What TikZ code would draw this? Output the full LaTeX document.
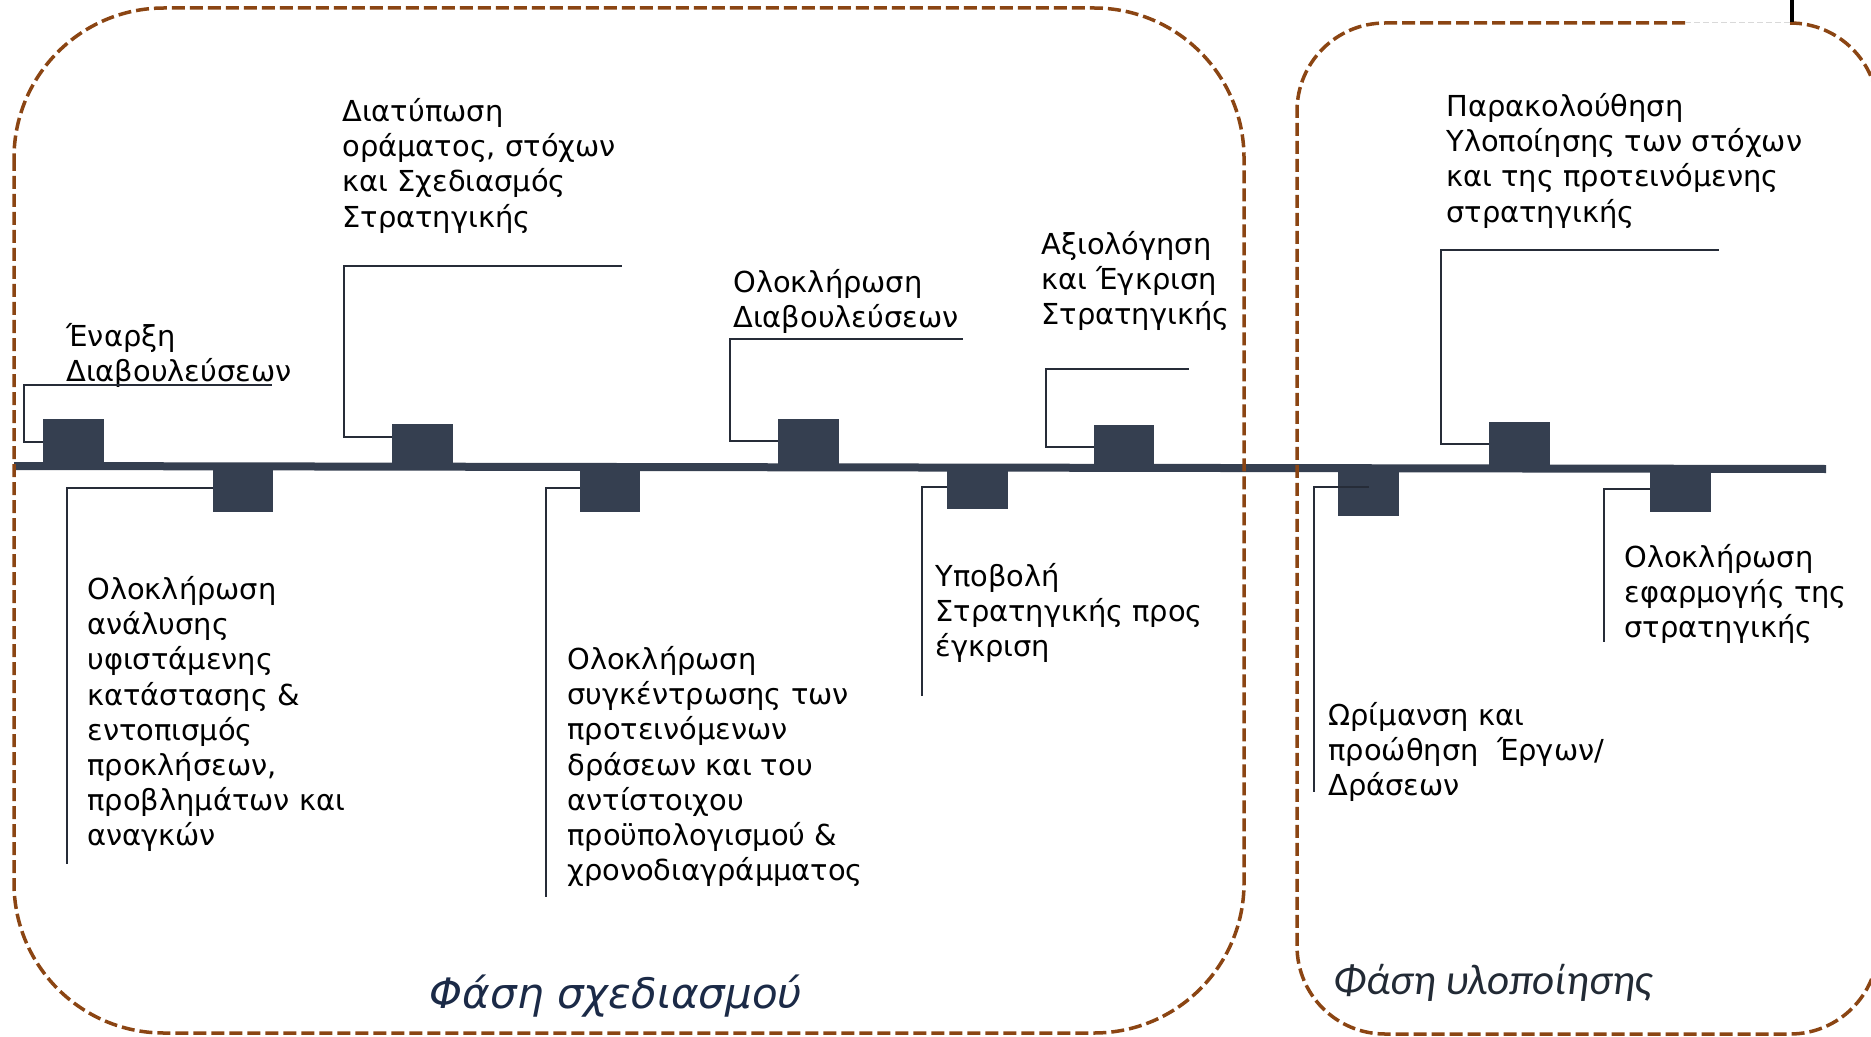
\documentclass[tikz,border=0pt]{standalone}
\usepackage{fontspec}
\setmainfont{DejaVu Sans}
\newfontfamily\calfont{Carlito}
\definecolor{slate}{HTML}{353F50}
\definecolor{callc}{HTML}{262C38}
\definecolor{phasebrown}{HTML}{8B4513}
\definecolor{titlenavy}{HTML}{1B2A47}
\definecolor{titlegrey}{HTML}{222A35}
\begin{document}
\begin{tikzpicture}[x=0.5pt,y=-0.5pt,
  sq/.style={fill=slate,draw=none,inner sep=0pt,minimum width=30.5pt},
  callout/.style={draw=callc,line width=1.3pt},
  lbl/.style={anchor=north west,inner sep=0pt,align=left,text=black,
    font=\fontsize{14.45pt}{17.6pt}\selectfont},
  phase/.style={draw=phasebrown,line width=1.75pt,dash pattern=on 6.5pt off 2.5pt},
  ]
\useasboundingbox (0,0) rectangle (1871,1037);
% timeline
\coordinate (tlA) at (14,466);
\coordinate (tlB) at (1826,469);
\draw[slate,line width=4pt] (tlA) -- (tlB);
% squares above
\node[sq,minimum height=23.5pt] (s1) at (73.5,442.5) {};
\node[sq,minimum height=21pt] (s3) at (422.5,445) {};
\node[sq,minimum height=24pt] (s5) at (808.5,443) {};
\node[sq,minimum height=21pt,minimum width=30pt] (s7) at (1124,446) {};
\node[sq,minimum height=23pt] (s9) at (1519.5,445) {};
% squares below
\node[sq,minimum height=23pt,minimum width=30pt] (s2) at (243,489) {};
\node[sq,minimum height=22.5pt,minimum width=30pt] (s4) at (610,489.5) {};
\node[sq,minimum height=21pt] (s6) at (977.5,488) {};
\node[sq,minimum height=24pt] (s8) at (1368.5,492) {};
\node[sq,minimum height=21.5pt] (s10) at (1680.5,490.5) {};
% labels
\node[lbl] (t1) at (66,321.4) {\strut Έναρξη\\Διαβουλεύσεων};
\node[lbl] (t2) at (87,574.4) {\strut Ολοκλήρωση\\ανάλυσης\\υφιστάμενης\\κατάστασης \&\\εντοπισμός\\προκλήσεων,\\προβλημάτων και\\αναγκών};
\node[lbl] (t3) at (342,96.4) {\strut Διατύπωση\\οράματος, στόχων\\και Σχεδιασμός\\Στρατηγικής};
\node[lbl] (t4) at (567,644.4) {\strut Ολοκλήρωση\\συγκέντρωσης των\\προτεινόμενων\\δράσεων και του\\αντίστοιχου\\προϋπολογισμού \&\\χρονοδιαγράμματος};
\node[lbl] (t5) at (733,267) {\strut Ολοκλήρωση\\Διαβουλεύσεων};
\node[lbl] (t6) at (935,561.4) {\strut Υποβολή\\Στρατηγικής προς\\έγκριση};
\node[lbl] (t7) at (1041,229.4) {\strut Αξιολόγηση\\και Έγκριση\\Στρατηγικής};
\node[lbl] (t8) at (1328,700.4) {\strut Ωρίμανση και\\προώθηση\ \ Έργων/\\Δράσεων};
\node[lbl] (t9) at (1446,91.4) {\strut Παρακολούθηση\\Υλοποίησης των στόχων\\και της προτεινόμενης\\στρατηγικής};
\node[lbl] (t10) at (1624,542.4) {\strut Ολοκλήρωση\\εφαρμογής της\\στρατηγικής};
% callout end coordinates
\coordinate (c1) at (272,385);
\coordinate (c3) at (622,266);
\coordinate (c5) at (963,339);
\coordinate (c7) at (1189,369);
\coordinate (c9) at (1719,250);
\coordinate (c2) at (67,864);
\coordinate (c4) at (546,897);
\coordinate (c6) at (922,696);
\coordinate (c8) at (1314,792);
\coordinate (c10) at (1604,642);
% callouts above
\draw[callout] (s1.west |- 0,442) -- (24,442) -- (24,385) -- (c1);
\draw[callout] (s3.west |- 0,437) -- (344,437) -- (344,266) -- (c3);
\draw[callout] (s5.west |- 0,441) -- (730,441) -- (730,339) -- (c5);
\draw[callout] (s7.west |- 0,447) -- (1046,447) -- (1046,369) -- (c7);
\draw[callout] (s9.west |- 0,444) -- (1441,444) -- (1441,250) -- (c9);
% callouts below
\draw[callout] (s2.west |- 0,488) -- (67,488) -- (c2);
\draw[callout] (s4.west |- 0,488) -- (546,488) -- (c4);
\draw[callout] (s6.west |- 0,487) -- (922,487) -- (c6);
\draw[callout] (s8.center |- 0,487) -- (1314,487) -- (c8);
\draw[callout] (s10.west |- 0,489) -- (1604,489) -- (c10);
% phase boxes
\draw[phase,rounded corners=75pt] (14,8) rectangle (1244,1033);
\draw[phase,rounded corners=44pt] (1685,23) -- (1297,23) -- (1297,1034) -- (1878,1034) -- (1878,23) -- (1790,23);
\draw[draw=black!15,line width=0.5pt,dash pattern=on 3pt off 1.5pt] (1685,23) -- (1790,23);
\draw[black,line width=1.6pt] (1792,0) -- (1792,22);
% phase titles
\node[text=titlenavy,font=\fontsize{21pt}{25pt}\selectfont\itshape,inner sep=0pt] (ph1) at (616,996) {Φάση σχεδιασμού};
\node[text=titlegrey,font=\calfont\fontsize{21.5pt}{25pt}\selectfont\itshape,inner sep=0pt] (ph2) at (1493,983) {Φάση υλοποίησης};
\end{tikzpicture}
\end{document}
